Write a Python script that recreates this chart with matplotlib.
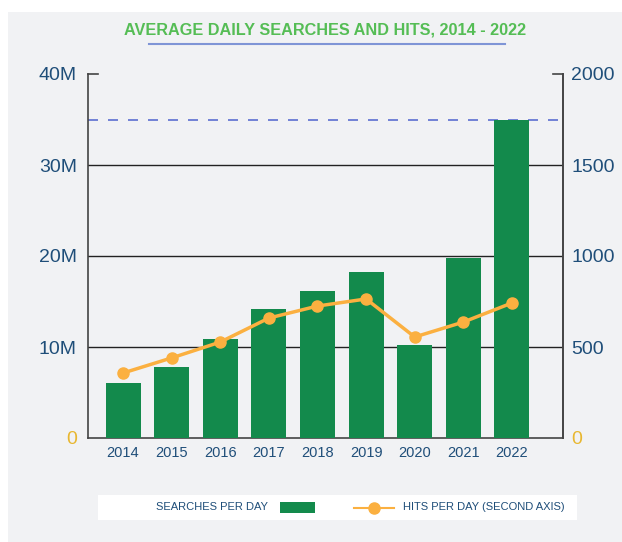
import matplotlib as mpl
mpl.use('Agg')
import matplotlib.pyplot as plt
from matplotlib.patches import Rectangle
from matplotlib.lines import Line2D

plt.rcParams['font.family'] = ['Liberation Sans', 'DejaVu Sans']

years = ['2014', '2015', '2016', '2017', '2018', '2019', '2020', '2021', '2022']
searches_m = [6.0, 7.8, 10.9, 14.2, 16.2, 18.2, 10.2, 19.8, 35.0]
hits = [357, 440, 527, 659, 725, 764, 555, 637, 742]
target_m = 35.0

GREEN = '#138a4c'
ORANGE = '#fbb040'
BLUE_TXT = '#1f4e79'
GOLD = '#e8b730'
BG = '#f1f2f4'

W, H = 622, 542
fig = plt.figure(figsize=(6.22, 5.42), dpi=100)
fig.patch.set_facecolor('white')
# grey panel
fig.patches.append(Rectangle((8/W, 0), 1, 1 - 12/H, transform=fig.transFigure,
                             facecolor=BG, edgecolor='none', zorder=-10))

ax = fig.add_axes([88/W, 1 - 438/H, (563-88)/W, (438-74)/H])
ax.set_facecolor(BG)
x = list(range(len(years)))
ax.bar(x, searches_m, width=0.72, color=GREEN, zorder=3)
for v in [10, 20, 30]:
    ax.axhline(v, color='#222222', lw=1.0, zorder=1)
ax.axhline(target_m, color='#5b6fd0', lw=1.2, dashes=(6, 6), zorder=2)

ax.set_yticks([0, 10, 20, 30, 40])
ax.set_yticklabels(['0', '10M', '20M', '30M', '40M'], fontsize=14, color=BLUE_TXT)
ax.get_yticklabels()[0].set_color(GOLD)
ax.tick_params(axis='y', length=0, pad=8)
ax.set_xticks(x)
ax.set_xticklabels(years, fontsize=10.5, color=BLUE_TXT)
ax.tick_params(axis='x', length=0, pad=6)
ax.spines['top'].set_visible(False)
for s in ['left', 'right', 'bottom']:
    ax.spines[s].set_color('#444444')
    ax.spines[s].set_linewidth(1.2)

ax2 = ax.twinx()
ax2.plot(x, hits, color=ORANGE, lw=2.5, marker='o', ms=8, zorder=5)
ax2.set_ylim(0, 2000)
ax2.set_yticks([0, 500, 1000, 1500, 2000])
ax2.set_yticklabels(['0', '500', '1000', '1500', '2000'], fontsize=14, color=BLUE_TXT)
ax2.get_yticklabels()[0].set_color(GOLD)
ax2.tick_params(axis='y', length=0, pad=6)
for s in ['top', 'left', 'bottom']:
    ax2.spines[s].set_visible(False)
ax2.spines['right'].set_color('#444444')
ax2.spines['right'].set_linewidth(1.2)

ax.set_ylim(0, 40)
xmin, xmax = -0.72, 9.05
# small caps at top of axes
ax.plot([xmin, xmin + 0.2], [40, 40], color='#444444', lw=1.2, clip_on=False)
ax.plot([xmax - 0.2, xmax], [40, 40], color='#444444', lw=1.2, clip_on=False)
ax.set_xlim(xmin, xmax)

# title
fig.text(325/W, 1 - 30/H, 'AVERAGE DAILY SEARCHES AND HITS, 2014 - 2022',
         ha='center', va='center', fontsize=11.7, fontweight='bold', color='#55bd55')
fig.add_artist(Line2D([149/W, 505/W], [1 - 44/H, 1 - 44/H], color='#7f95d6', lw=1.5))

# legend box
fig.patches.append(Rectangle((98/W, 1 - 520/H), (577-98)/W, 25/H, transform=fig.transFigure,
                             facecolor='white', edgecolor='none'))
ly = 1 - 507.5/H
fig.text(268/W, ly, 'SEARCHES PER DAY', ha='right', va='center', fontsize=8, color=BLUE_TXT)
fig.patches.append(Rectangle((280/W, 1 - 513/H), 35/W, 11/H, transform=fig.transFigure,
                             facecolor=GREEN, edgecolor='none'))
fig.add_artist(Line2D([354/W, 394/W], [ly, ly], color=ORANGE, lw=1.5))
fig.add_artist(Line2D([374/W], [ly], color=ORANGE, marker='o', ms=8, lw=0))
fig.text(403/W, ly, 'HITS PER DAY (SECOND AXIS)', ha='left', va='center', fontsize=8, color=BLUE_TXT)

fig.savefig('out.png', dpi=100)
